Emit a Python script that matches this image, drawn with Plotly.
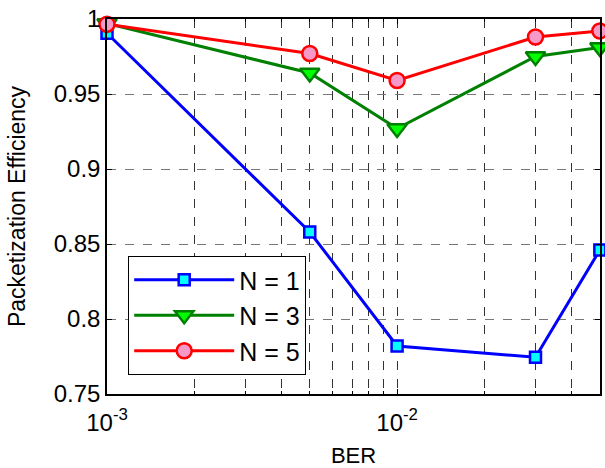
import numpy as np
import plotly.graph_objects as go

ber = [1e-3, 5e-3, 1e-2, 3e-2, 5e-2]
eff_n1 = [0.9905, 0.858, 0.782, 0.7745, 0.846]
eff_n3 = [0.997, 0.964, 0.927, 0.975, 0.981]
eff_n5 = [0.9965, 0.977, 0.959, 0.988, 0.992]

y_ticks = [0.75, 0.8, 0.85, 0.9, 0.95, 1.0]
y_ticktext = ["0.75", "0.8", "0.85", "0.9", "0.95", "1"]
x_ticks = [1e-3, 1e-2]
x_ticktext = ["10<sup>-3</sup>", "10<sup>-2</sup>"]
x_minor = [2e-3, 3e-3, 4e-3, 5e-3, 6e-3, 7e-3, 8e-3, 9e-3, 2e-2, 3e-2, 4e-2]

FAM = "Liberation Sans, Arial, sans-serif"

fig = go.Figure()
fig.add_trace(go.Scatter(x=ber, y=eff_n1, name="N = 1", mode="lines+markers", legendgroup="a",
    line=dict(color="#0000ff", width=3),
    marker=dict(symbol="square", size=11, color="#00ffff", line=dict(color="#0000ff", width=2.5)),
    cliponaxis=False))
fig.add_trace(go.Scatter(x=ber, y=eff_n3, name="N = 3", mode="lines+markers", legendgroup="b",
    line=dict(color="#008000", width=3),
    marker=dict(symbol="triangle-down", size=17, color="#00ff00", line=dict(color="#008000", width=2.5)),
    cliponaxis=False))
fig.add_trace(go.Scatter(x=ber, y=eff_n5, name="N = 5", mode="lines+markers", legendgroup="c",
    line=dict(color="#ff0000", width=3),
    marker=dict(symbol="circle", size=15, color="#f799c8", line=dict(color="#ff0000", width=2.5)),
    cliponaxis=False))

fig.update_layout(
    width=605, height=468,
    margin=dict(l=107, r=5, t=19, b=74),
    paper_bgcolor="white", plot_bgcolor="white",
    font=dict(family=FAM, size=23, color="black"),
    showlegend=True,
    legend=dict(x=0.043, y=0.368, xanchor="left", yanchor="top",
                bgcolor="white", bordercolor="black", borderwidth=1,
                font=dict(family=FAM, size=25, color="black"),
                tracegroupgap=0, itemwidth=100),
)
fig.update_xaxes(
    type="log", range=[-3, np.log10(0.05) + 0.0005],
    tickvals=x_ticks, ticktext=x_ticktext,
    ticks="inside", ticklen=5, tickcolor="black",
    showline=True, linecolor="black", linewidth=1.5, mirror="allticks",
    showgrid=True, gridcolor="#333333", gridwidth=1, griddash="dash",
    minor=dict(tickvals=x_minor, ticks="inside", ticklen=3, tickcolor="black",
               showgrid=True, gridcolor="#333333", gridwidth=1, griddash="dash"),
    ticklabelstandoff=6, automargin=False,
    title=dict(text="BER", font=dict(family=FAM, size=22), standoff=15),
    tickfont=dict(family=FAM, size=24), zeroline=False,
)
fig.update_yaxes(
    range=[0.75, 1.0],
    tickvals=y_ticks, ticktext=y_ticktext,
    ticks="inside", ticklen=5, tickcolor="black",
    showline=True, linecolor="black", linewidth=1.5, mirror="allticks",
    showgrid=True, gridcolor="#777777", gridwidth=1, griddash="dash",
    automargin=False,
    title=dict(text="Packetization Efficiency", font=dict(family=FAM, size=23), standoff=22),
    tickfont=dict(family=FAM, size=24), zeroline=False,
)

fig.write_html("out.html")
